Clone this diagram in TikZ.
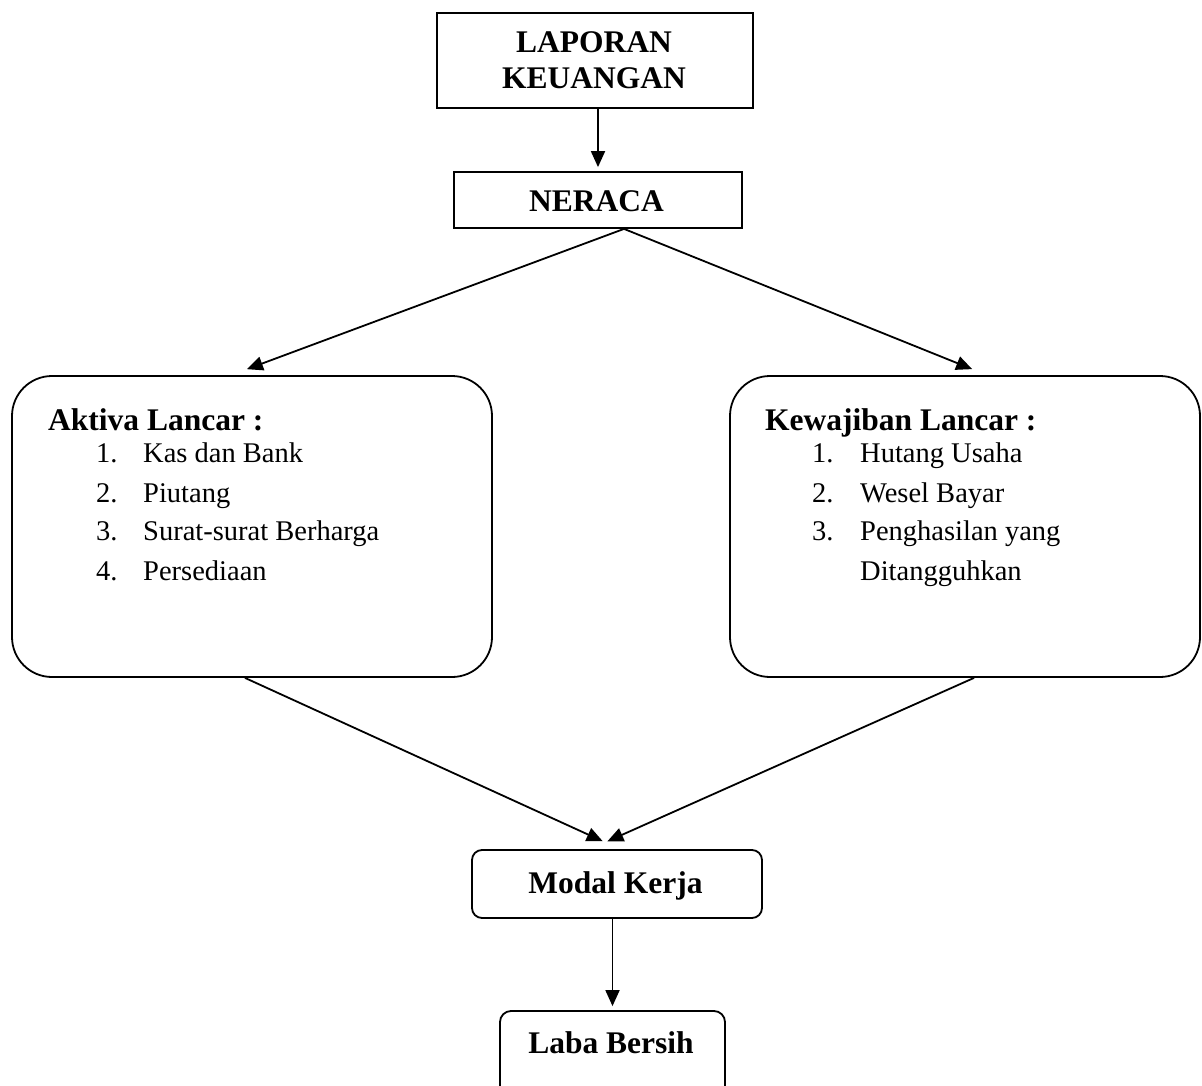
\documentclass[tikz,border=0pt]{standalone}
\usepackage{fontspec}
\setmainfont{Liberation Serif}
\usetikzlibrary{arrows.meta,calc}
\begin{document}
\begin{tikzpicture}[x=1pt,y=-1pt,
  frame/.style={draw,line width=1.8pt,inner sep=0pt},
  arr/.style={line width=1.8pt,-{Triangle[length=16pt,width=14pt]}},
  hd/.style={inner sep=0pt,font=\fontsize{31.5}{36}\selectfont\bfseries},
  it/.style={inner sep=0pt,anchor=base west,font=\fontsize{28.5}{34}\selectfont}]
\useasboundingbox (0,0) rectangle (1202,1086);
% boxes
\node[frame,minimum width=316pt,minimum height=95pt] (lap) at (595,60.5) {};
\node[frame,minimum width=288pt,minimum height=56pt] (ner) at (598,200) {};
\node[frame,rounded corners=40pt,minimum width=480pt,minimum height=301pt] (akt) at (252,526.5) {};
\node[frame,rounded corners=40pt,minimum width=470pt,minimum height=301pt] (kew) at (965,526.5) {};
\node[frame,rounded corners=10pt,minimum width=290pt,minimum height=68pt] (mod) at (617,884) {};
\node[frame,rounded corners=11pt,minimum width=225pt,minimum height=90pt] (lab) at (612.5,1056) {};
% texts
\node[hd,anchor=base] (t1) at (594,53) {LAPORAN};
\node[hd,anchor=base] (t2) at (594,89) {KEUANGAN};
\node[hd,anchor=base] (t3) at (596.5,212) {NERACA};
\node[hd,anchor=base west] (ah) at (48,430) {Aktiva Lancar :};
\node[it] (an1) at (96,462) {1.};  \node[it] (a1) at (143,462) {Kas dan Bank};
\node[it] (an2) at (96,502) {2.};  \node[it] (a2) at (143,502) {Piutang};
\node[it] (an3) at (96,540) {3.};  \node[it] (a3) at (143,540) {Surat-surat Berharga};
\node[it] (an4) at (96,580) {4.};  \node[it] (a4) at (143,580) {Persediaan};
\node[hd,anchor=base west] (kh) at (765,430) {Kewajiban Lancar :};
\node[it] (kn1) at (812,462) {1.};  \node[it] (k1) at (860,462) {Hutang Usaha};
\node[it] (kn2) at (812,502) {2.};  \node[it] (k2) at (860,502) {Wesel Bayar};
\node[it] (kn3) at (812,540) {3.};  \node[it] (k3) at (860,540) {Penghasilan yang};
\node[it] (k4) at (860,580) {Ditangguhkan};
\node[hd,anchor=base] (t4) at (615.5,893) {Modal Kerja};
\node[hd,anchor=base] (t5) at (611,1053) {Laba Bersih};
% connector points
\coordinate (nerout) at ($(ner.south)+(26,0)$);
\coordinate (aktin) at ($(akt.north)+(-21,0)$);
\coordinate (kewin) at ($(kew.north)+(22,0)$);
\coordinate (aktout) at ($(akt.south)+(-7,0)$);
\coordinate (kewout) at ($(kew.south)+(9,0)$);
\coordinate (modinL) at ($(mod.north)+(3,0)$);
\coordinate (modinR) at ($(mod.north)+(-27,0)$);
% connectors
\draw[arr,shorten >=4pt] (lap.south -| ner.north) -- (ner.north);
\draw[arr,shorten >=17pt] (nerout) -- (aktin);
\draw[arr,shorten >=16pt] (nerout) -- (kewin);
\draw[arr,shorten >=19pt] (aktout) -- (modinL);
\draw[arr,shorten >=19pt] (kewout) -- (modinR);
\draw[arr,shorten >=4pt] (mod.south -| lab.north) -- (lab.north);
\end{tikzpicture}
\end{document}
